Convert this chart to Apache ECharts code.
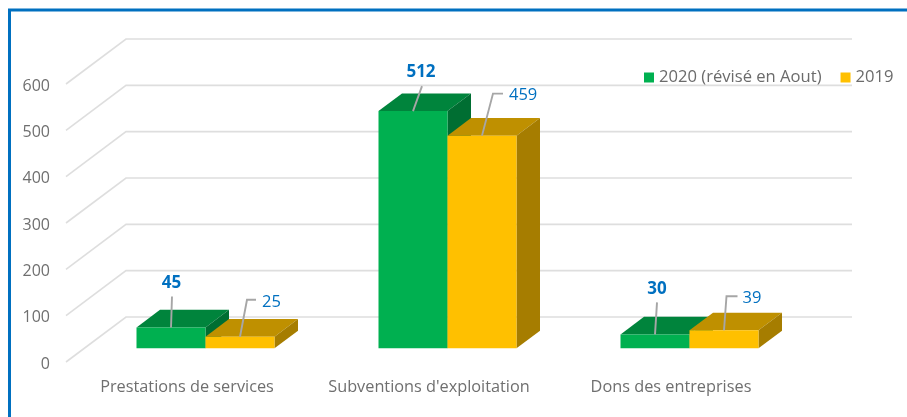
<!DOCTYPE html>
<html>
<head>
<meta charset="utf-8">
<style>html,body{margin:0;padding:0;background:#fff}#c{width:907px;height:417px}</style>
<script src="https://cdn.jsdelivr.net/npm/echarts@6/dist/echarts.min.js"></script>
</head>
<body>
<div id="c"></div>
<script>
const categories = ["Prestations de services", "Subventions d'exploitation", "Dons des entreprises"];
const seriesNames = ["2020 (révisé en Aout)", "2019"];
const values2020 = [45, 512, 30];
const values2019 = [25, 459, 39];
const yTicks = [0, 100, 200, 300, 400, 500, 600];

const FONT = '"Open Sans", sans-serif';
const BLUE = '#0070C0';
const WALL = { dx: 60, dy: -45 };       // floor depth of the pseudo 3D box
const NEAR = { dx: 18.5, dy: -13.7 };   // bar's front face inside that depth
const FAR = { dx: 42, dy: -31.3 };      // bar's back face
const BAR_W = 69;

// leader routes from the top of each front face, one per category
const leaders2020 = [
  { tip: [1, -31], text: [0.5, -44] },
  { tip: [9, -25], text: [8, -39] },
  { tip: [2, -32], text: [2, -45] }
];
const leaders2019 = [
  { elbow: [7, -37], end: [16, -37], text: [22, -34.5] },
  { elbow: [11, -42], end: [21, -42], text: [27, -40.5] },
  { elbow: [2.5, -34], end: [13.5, -34], text: [18.5, -32] }
];

function gridlineItem(params, api) {
  const y = api.coord([0, api.value(1)])[1];
  const x0 = params.coordSys.x;
  const x1 = x0 + params.coordSys.width;
  return {
    type: 'polyline',
    shape: { points: [[x0, y], [x0 + WALL.dx, y + WALL.dy], [x1 + WALL.dx, y + WALL.dy]] },
    style: { stroke: '#DEDEDE', lineWidth: 1.6, fill: null },
    silent: true
  };
}

function barItem(side, colors, leaders, bold) {
  return function (params, api) {
    const i = api.value(0);
    const top = api.coord([i, api.value(1)]);
    const base = api.coord([i, 0]);
    const xl = top[0] + NEAR.dx + (side < 0 ? -BAR_W : 0);
    const xr = xl + BAR_W;
    const yt = top[1] + NEAR.dy;
    const yb = base[1] + NEAR.dy;
    const ddx = FAR.dx - NEAR.dx, ddy = FAR.dy - NEAR.dy;
    const poly = (pts, fill) => ({ type: 'polygon', shape: { points: pts }, style: { fill: fill, stroke: null } });
    const cx = (xl + xr) / 2;
    const L = leaders[i];
    const P = p => [cx + p[0], yt + p[1]];
    const pts = L.elbow ? [[cx, yt], P(L.elbow), P(L.end)] : [[cx, yt], P(L.tip)];
    return {
      type: 'group',
      children: [
        poly([[xl, yt], [xl + ddx, yt + ddy], [xr + ddx, yt + ddy], [xr, yt]], colors.top),
        poly([[xr, yt], [xr + ddx, yt + ddy], [xr + ddx, yb + ddy], [xr, yb]], colors.side),
        poly([[xl, yt], [xr, yt], [xr, yb], [xl, yb]], colors.front),
        { type: 'polyline', shape: { points: pts }, style: { stroke: '#A6A6A6', lineWidth: 1.9, fill: null } },
        {
          type: 'text',
          x: P(L.text)[0], y: P(L.text)[1],
          style: {
            text: String(api.value(1)),
            font: (bold ? 'bold 17px ' : '16.5px ') + FONT,
            fill: BLUE,
            align: bold ? 'center' : 'left',
            verticalAlign: 'middle'
          }
        }
      ]
    };
  };
}

const chart = echarts.init(document.getElementById('c'), null, { renderer: 'canvas' });
chart.setOption({
  animation: false,
  backgroundColor: '#fff',
  graphic: [{
    type: 'polyline',
    shape: { points: [[9.5, 417], [9.5, 10], [907, 10]] },
    style: { stroke: BLUE, lineWidth: 3, fill: null },
    silent: true
  }],
  legend: {
    data: seriesNames,
    left: 644, top: 69,
    itemWidth: 10, itemHeight: 10, itemGap: 19,
    icon: 'rect',
    textStyle: { color: '#6B6B6B', fontFamily: FONT, fontSize: 16.6 },
    selectedMode: false,
    padding: 0
  },
  grid: { left: 66, top: 84, width: 726, height: 278 },
  xAxis: {
    type: 'category', data: categories,
    axisLine: { show: false }, axisTick: { show: false },
    axisLabel: { color: '#6F6F6F', fontFamily: FONT, fontSize: 16.3, margin: 17, interval: 0 }
  },
  yAxis: {
    type: 'value', min: 0, max: 600, interval: 100,
    axisLine: { show: false }, axisTick: { show: false }, splitLine: { show: false },
    axisLabel: { color: '#6F6F6F', fontFamily: FONT, fontSize: 16, margin: 16, verticalAlign: 'top', lineHeight: 4 }
  },
  series: [
    {
      type: 'custom', name: 'grid', z: 1, silent: true,
      data: yTicks.map(v => [categories[0], v]),
      encode: { x: 0, y: 1 },
      renderItem: gridlineItem
    },
    {
      type: 'custom', name: seriesNames[0], z: 2,
      itemStyle: { color: '#00B050' },
      data: values2020.map((v, i) => [categories[i], v]),
      encode: { x: 0, y: 1 },
      renderItem: barItem(-1, { front: '#00B050', top: '#00843C', side: '#006E32' }, leaders2020, true)
    },
    {
      type: 'custom', name: seriesNames[1], z: 3,
      itemStyle: { color: '#FFC000' },
      data: values2019.map((v, i) => [categories[i], v]),
      encode: { x: 0, y: 1 },
      renderItem: barItem(1, { front: '#FFC000', top: '#BF9000', side: '#A67D00' }, leaders2019, false)
    }
  ]
});
</script>
</body>
</html>
